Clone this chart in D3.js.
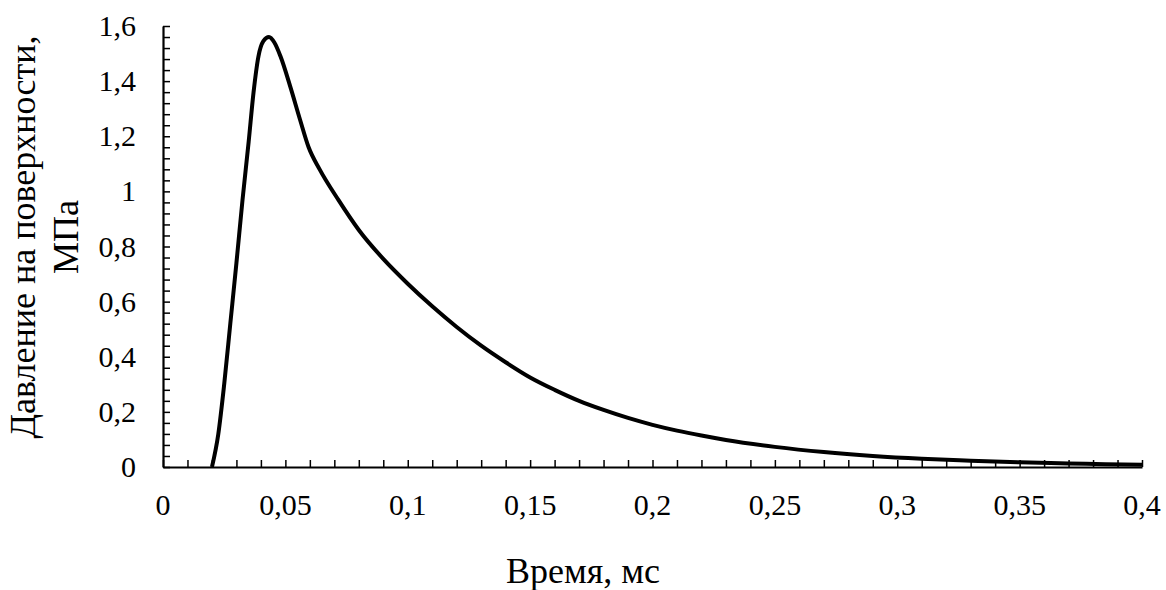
<!DOCTYPE html>
<html>
<head>
<meta charset="utf-8">
<script src="https://cdn.jsdelivr.net/npm/d3@7"></script>
<style>
  body { margin: 0; background: #fff; }
  svg text { font-family: "Liberation Serif", Tinos, "Times New Roman", "DejaVu Serif", serif; }
</style>
</head>
<body>
<svg width="1166" height="590"></svg>
<script>
// time, ms
const time = [0.020, 0.0226, 0.025, 0.0275, 0.030, 0.0325, 0.035, 0.037, 0.039, 0.041,
  0.0433, 0.0455, 0.048, 0.052, 0.056, 0.0595, 0.064, 0.0716, 0.080, 0.090,
  0.100, 0.110, 0.120, 0.130, 0.140, 0.150, 0.160, 0.170, 0.180, 0.190,
  0.200, 0.210, 0.220, 0.230, 0.250, 0.270, 0.290, 0.310, 0.330, 0.350,
  0.370, 0.385, 0.400];
// surface pressure, MPa
const pressure = [0, 0.12, 0.30, 0.52, 0.74, 0.97, 1.18, 1.36, 1.49, 1.545,
  1.56, 1.54, 1.49, 1.38, 1.26, 1.16, 1.08, 0.97, 0.86, 0.755,
  0.665, 0.583, 0.508, 0.44, 0.38, 0.325, 0.28, 0.24, 0.207, 0.178,
  0.153, 0.132, 0.114, 0.098, 0.073, 0.054, 0.040, 0.030, 0.023, 0.017,
  0.013, 0.010, 0.008];

const xTicks = [0, 0.05, 0.1, 0.15, 0.2, 0.25, 0.3, 0.35, 0.4];
const yTicks = [0, 0.2, 0.4, 0.6, 0.8, 1, 1.2, 1.4, 1.6];
const xTitle = "Время, мс";
const yTitle = ["Давление на поверхности,", "МПа"];

const svg = d3.select("svg");
const fmt = d3.formatLocale({decimal: ",", thousands: " ", grouping: [3], currency: ["", ""]}).format("~g");

const x = d3.scaleLinear().domain([0, 0.4]).range([163, 1142]);
const y = d3.scaleLinear().domain([0, 1.6]).range([467, 26]);

const xMinor = d3.range(0, 41).map(i => i / 100);
const yMinor = d3.range(0, 41).map(i => i * 0.04);

// minor ticks point inward
svg.append("g")
  .attr("transform", `translate(0,${y(0)})`)
  .call(d3.axisBottom(x).tickValues(xMinor).tickSize(-7).tickSizeOuter(0).tickFormat(""))
  .call(g => g.selectAll("line").attr("stroke", "#000").attr("stroke-width", 1.5))
  .call(g => g.select(".domain").attr("stroke", "#000").attr("stroke-width", 2.2));

svg.append("g")
  .attr("transform", `translate(${x(0)},0)`)
  .call(d3.axisLeft(y).tickValues(yMinor).tickSize(-7).tickSizeOuter(0).tickFormat(""))
  .call(g => g.selectAll("line").attr("stroke", "#000").attr("stroke-width", 1.5))
  .call(g => g.select(".domain").attr("stroke", "#000").attr("stroke-width", 2.2));

svg.append("g").selectAll("text")
  .data(xTicks)
  .join("text")
  .attr("x", d => x(d))
  .attr("y", 515)
  .attr("text-anchor", "middle")
  .attr("font-size", 30)
  .text(d => fmt(d));

svg.append("g").selectAll("text")
  .data(yTicks)
  .join("text")
  .attr("x", 136)
  .attr("y", d => y(d) + 10)
  .attr("text-anchor", "end")
  .attr("font-size", 30)
  .text(d => fmt(d));

svg.append("text")
  .attr("x", 583)
  .attr("y", 583)
  .attr("text-anchor", "middle")
  .attr("font-size", 36)
  .text(xTitle);

svg.append("g")
  .attr("transform", "translate(0,237) rotate(-90)")
  .selectAll("text")
  .data(yTitle)
  .join("text")
  .attr("x", 0)
  .attr("y", (d, i) => 35 + i * 43)
  .attr("text-anchor", "middle")
  .attr("font-size", 36)
  .text(d => d);

const pts = time.map((t, i) => [t, pressure[i]]);
const line = d3.line()
  .x(d => x(d[0]))
  .y(d => y(d[1]))
  .curve(d3.curveMonotoneX);

svg.append("path")
  .datum(pts)
  .attr("d", line)
  .attr("fill", "none")
  .attr("stroke", "#000")
  .attr("stroke-width", 4)
  .attr("stroke-linejoin", "round");
</script>
</body>
</html>
